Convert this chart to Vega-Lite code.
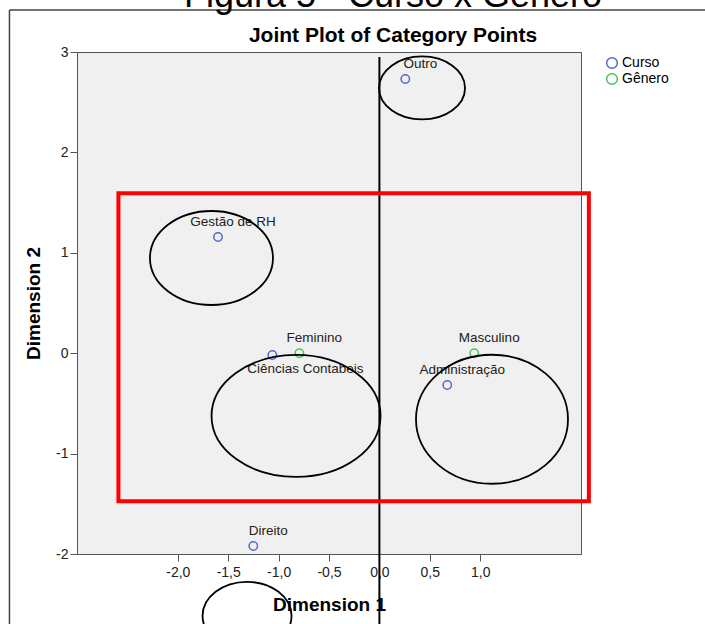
{
  "$schema": "https://vega.github.io/schema/vega-lite/v6.json",
  "autosize": "none",
  "padding": {"left": 77, "top": 52, "right": 124, "bottom": 70},
  "width": 504,
  "height": 502,
  "background": "white",
  "config": {
    "font": "Liberation Sans",
    "view": {"fill": "#F0F0F0", "stroke": "#555555", "strokeWidth": 1}
  },
  "title": {
    "text": "Figura 5 - Curso x Gênero",
    "subtitle": "Joint Plot of Category Points",
    "fontSize": 36,
    "fontWeight": "normal",
    "color": "#000000",
    "subtitleFontSize": 21,
    "subtitleFontWeight": "bold",
    "subtitleColor": "#000000",
    "anchor": "middle",
    "dx": 64,
    "offset": -38,
    "subtitlePadding": 10
  },
  "datasets": {
    "points": [
      {"name": "Outro", "grupo": "Curso", "x": 0.257, "y": 2.731},
      {"name": "Gestão de RH", "grupo": "Curso", "x": -1.601, "y": 1.157},
      {"name": "Ciências Contabeis", "grupo": "Curso", "x": -1.062, "y": -0.018},
      {"name": "Administração", "grupo": "Curso", "x": 0.673, "y": -0.317},
      {"name": "Direito", "grupo": "Curso", "x": -1.251, "y": -1.92},
      {"name": "Feminino", "grupo": "Gênero", "x": -0.794, "y": 0.0},
      {"name": "Masculino", "grupo": "Gênero", "x": 0.941, "y": 0.0}
    ],
    "ellipses": [
      {"id": "E1", "x": 0.423, "y": 2.642},
      {"id": "E2", "x": -1.666, "y": 0.948},
      {"id": "E3", "x": -0.827, "y": -0.625},
      {"id": "E4", "x": 1.117, "y": -0.658},
      {"id": "E5", "x": -1.313, "y": -2.616}
    ],
    "frame": [
      {"x": -3.67, "x2": -3.67, "y": 3.418, "y2": -2.8},
      {"x": -3.67, "x2": 3.4, "y": 3.418, "y2": 3.418}
    ],
    "vline": [
      {"x": 0, "x2": 0, "y": 2.95, "y2": -2.8}
    ],
    "box": [
      {"x": -2.589, "x2": 2.078, "y": 1.594, "y2": -1.474}
    ]
  },
  "encoding": {
    "x": {
      "field": "x",
      "type": "quantitative",
      "scale": {"domain": [-3, 2], "nice": false, "zero": false},
      "axis": {
        "title": "Dimension 1",
        "values": [-2, -1.5, -1, -0.5, 0, 0.5, 1],
        "labelExpr": "(datum.value < 0 ? '-' : '') + replace(format(abs(datum.value), '.1f'), '.', ',')",
        "grid": false,
        "tickSize": 7,
        "tickColor": "#555555",
        "domainColor": "#555555",
        "labelFontSize": 14,
        "labelColor": "#222222",
        "labelPadding": 4,
        "labelFlush": false,
        "labelOverlap": false,
        "titleFontSize": 19,
        "titleFontWeight": "bold",
        "titleColor": "#000000",
        "titlePadding": 16
      }
    },
    "y": {
      "field": "y",
      "type": "quantitative",
      "scale": {"domain": [-2, 3], "nice": false, "zero": false},
      "axis": {
        "title": "Dimension 2",
        "values": [-2, -1, 0, 1, 2, 3],
        "labelExpr": "(datum.value < 0 ? '-' : '') + abs(datum.value)",
        "grid": false,
        "tickSize": 7,
        "tickColor": "#555555",
        "domainColor": "#555555",
        "labelFontSize": 14,
        "labelColor": "#222222",
        "labelPadding": 2,
        "labelFlush": false,
        "labelOverlap": false,
        "titleFontSize": 19,
        "titleFontWeight": "bold",
        "titleColor": "#000000",
        "titlePadding": 12
      }
    }
  },
  "layer": [
    {
      "data": {"name": "frame"},
      "mark": {"type": "rule", "color": "#444444", "strokeWidth": 1.5},
      "encoding": {"x2": {"field": "x2"}, "y2": {"field": "y2"}}
    },
    {
      "data": {"name": "points"},
      "mark": {"type": "point", "filled": false, "opacity": 1, "size": 70, "strokeWidth": 1.5},
      "encoding": {
        "color": {
          "field": "grupo",
          "type": "nominal",
          "scale": {"domain": ["Curso", "Gênero"], "range": ["#4F6BCB", "#4DC458"]},
          "legend": {
            "title": null,
            "orient": "none",
            "legendX": 528,
            "legendY": 4,
            "padding": 0,
            "symbolType": "circle",
            "symbolSize": 115,
            "symbolStrokeWidth": 1.5,
            "labelFontSize": 14,
            "labelColor": "#000000",
            "labelOffset": 3,
            "rowPadding": -2
          }
        }
      }
    },
    {
      "data": {"name": "points"},
      "transform": [{"filter": "datum.name !== 'Ciências Contabeis'"}],
      "mark": {"type": "text", "fontSize": 13.5, "color": "#222222", "dx": 15, "dy": -11, "baseline": "alphabetic", "align": "center"},
      "encoding": {"text": {"field": "name"}}
    },
    {
      "data": {"name": "points"},
      "transform": [{"filter": "datum.name === 'Ciências Contabeis'"}],
      "mark": {"type": "text", "fontSize": 13.5, "color": "#222222", "dx": 33, "dy": 18, "baseline": "alphabetic", "align": "center"},
      "encoding": {"text": {"field": "name"}}
    },
    {
      "data": {"name": "vline"},
      "mark": {"type": "rule", "color": "#000000", "strokeWidth": 2},
      "encoding": {"x2": {"field": "x2"}, "y2": {"field": "y2"}}
    },
    {
      "data": {"name": "ellipses"},
      "mark": {"type": "point", "filled": false, "opacity": 1, "color": "#000000", "strokeWidth": 1.8, "size": 4},
      "encoding": {
        "shape": {
          "field": "id",
          "type": "nominal",
          "scale": {
            "domain": ["E1", "E2", "E3", "E4", "E5"],
            "range": [
              "M -43 0 A 43 31.5 0 1 0 43 0 A 43 31.5 0 1 0 -43 0 Z",
              "M -61.5 0 A 61.5 47 0 1 0 61.5 0 A 61.5 47 0 1 0 -61.5 0 Z",
              "M -84.5 0 A 84.5 61 0 1 0 84.5 0 A 84.5 61 0 1 0 -84.5 0 Z",
              "M -76 0 A 76 64.5 0 1 0 76 0 A 76 64.5 0 1 0 -76 0 Z",
              "M -44.5 0 A 44.5 34 0 1 0 44.5 0 A 44.5 34 0 1 0 -44.5 0 Z"
            ]
          },
          "legend": null
        }
      }
    },
    {
      "data": {"name": "box"},
      "mark": {"type": "rect", "fillOpacity": 0, "stroke": "#FF0000", "strokeWidth": 4},
      "encoding": {"x2": {"field": "x2"}, "y2": {"field": "y2"}}
    }
  ]
}
